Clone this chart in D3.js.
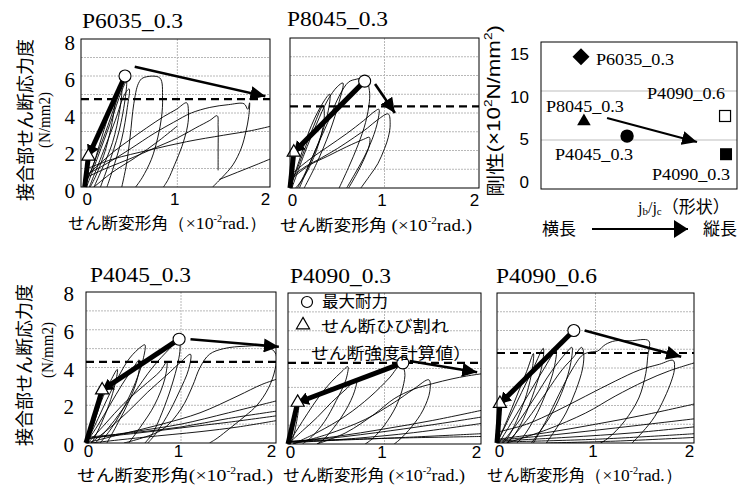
<!DOCTYPE html>
<html>
<head>
<meta charset="utf-8">
<script src="https://cdn.jsdelivr.net/npm/d3@7"></script>
<style>
body { margin: 0; background: #fff; }
</style>
</head>
<body>
<svg id="chart" width="753" height="488"></svg>
<script>
// ---- data ----
var panelTitles = ["P6035_0.3", "P8045_0.3", "P4045_0.3", "P4090_0.3", "P4090_0.6"];
var yTickValues = [0, 2, 4, 6, 8];
var xTickValues = [0, 1, 2];
var gridValues = [1, 2, 3, 4, 5, 6, 7];
var calcStrength = [4.75, 4.35, 4.3, 4.3, 4.8];          // dashed line
var crackPoint = [[0.04, 1.66], [0.04, 1.9], [0.17, 2.8], [0.1, 2.2], [0.03, 2.1]];
var maxPoint = [[0.435, 6.0], [0.79, 5.7], [0.98, 5.5], [1.19, 4.3], [0.78, 6.0]];
var trendFrom = [[0.54, 6.5], [0.9, 5.55], [1.1, 5.5], [1.26, 4.4], [0.89, 6.0]];
var trendTo = [[1.95, 4.9], [1.11, 4.0], [2.03, 5.1], [1.96, 3.8], [1.87, 4.6]];

var p6035Loops = [
  [[0,0],[0.1,1.3],[0.22,2.9],[0.34,4.6],[0.4,5.4],[0.38,4.2],[0.3,2.4],[0.18,0.9],[0.1,0]],
  [[0.02,0],[0.14,1.6],[0.28,3.5],[0.4,5.2],[0.45,5.7],[0.44,4.9],[0.37,3.0],[0.25,1.1],[0.17,0]],
  [[0.05,0],[0.2,1.9],[0.33,3.6],[0.43,5.0],[0.48,5.3],[0.46,4.3],[0.4,2.6],[0.3,0.9],[0.24,0]],
  [[0,0.2],[0.08,1.0],[0.16,2.3],[0.26,3.9],[0.33,4.9],[0.31,3.9],[0.23,2.1],[0.12,0.6],[0.06,0]],
  [[0.4,0],[0.45,1.2],[0.49,2.7],[0.53,4.5],[0.58,5.6],[0.63,5.9],[0.81,5.9],[0.84,4.8],[0.83,3.8],[0.79,2.7],[0.72,1.5],[0.62,0.5],[0.55,0]],
  [[0.02,0.6],[0.15,1.2],[0.31,1.9],[0.5,2.6],[0.67,3.2],[0.85,3.8],[0.99,4.2],[1.1,4.55],[1.12,4.0],[1.11,3.3],[1.05,2.2],[0.97,1.2],[0.9,0.4],[0.85,0]],
  [[0.03,0.7],[0.25,1.3],[0.49,2.05],[0.75,2.9],[0.96,3.5],[1.15,4.0],[1.35,4.3],[1.55,4.45],[1.72,4.5],[1.76,4.2],[1.78,4.55],[1.77,3.8],[1.74,3.0],[1.69,2.1],[1.6,1.2],[1.48,0.5],[1.38,0]],
  [[0.03,0.55],[0.25,1.05],[0.5,1.55],[0.75,2.1],[1.0,2.65],[1.2,3.2],[1.35,3.6],[1.43,3.85],[1.44,3.3],[1.44,2.0],[1.44,0.9]],
  [[0.03,1.0],[0.3,1.5],[0.7,2.0],[1.1,2.45],[1.5,2.8],[1.8,3.05],[2.02,3.3]],
  [[1.45,0.4],[1.65,0.8],[1.85,1.2],[2.02,1.55]],
  [[0.1,0],[0.3,0.8],[0.55,1.6],[0.8,2.5],[1.0,3.3]]
];
var p8045Loops = [
  [[0,0],[0.1,1.5],[0.2,3.0],[0.32,4.3],[0.42,5.0],[0.4,4.0],[0.3,2.4],[0.17,0.9],[0.08,0]],
  [[0.02,0],[0.15,1.8],[0.28,3.4],[0.4,4.7],[0.5,5.4],[0.56,5.6],[0.52,4.6],[0.42,3.0],[0.28,1.3],[0.15,0]],
  [[0,0],[0.12,1.6],[0.25,3.3],[0.35,4.4],[0.36,3.6],[0.28,2.0],[0.15,0.6],[0.06,0]],
  [[0.1,0],[0.25,1.8],[0.4,3.5],[0.52,4.9],[0.62,5.65],[0.7,5.8],[0.8,5.85],[0.84,5.2],[0.84,4.6],[0.8,3.5],[0.72,2.3],[0.62,1.1],[0.52,0]],
  [[0.02,0.6],[0.15,1.1],[0.33,1.6],[0.5,2.1],[0.68,2.7],[0.82,3.2],[0.93,3.65],[1.04,3.95],[1.06,3.4],[1.04,2.7],[1.0,2.1],[0.93,1.3],[0.85,0.7],[0.75,0]],
  [[0.03,0.8],[0.2,1.5],[0.4,2.2],[0.6,2.9],[0.78,3.6],[0.9,4.1],[0.94,4.2],[0.93,3.6],[0.87,2.6],[0.78,1.6],[0.68,0.7],[0.6,0]],
  [[0.02,0.5],[0.2,1.2],[0.4,1.7],[0.6,2.2],[0.78,2.6],[0.84,2.7],[0.84,2.3],[0.78,1.5],[0.7,0.7],[0.62,0]]
];
var p4045Loops = [
  [[0,0],[0.08,1.0],[0.16,2.2],[0.25,3.2],[0.33,3.9],[0.31,3.2],[0.24,2.0],[0.14,0.8],[0.06,0]],
  [[0,0],[0.1,1.0],[0.22,2.3],[0.34,3.5],[0.46,4.5],[0.58,5.1],[0.62,5.2],[0.6,4.4],[0.52,3.2],[0.4,1.9],[0.27,0.8],[0.15,0]],
  [[0,0],[0.12,0.9],[0.25,2.0],[0.38,3.1],[0.5,4.0],[0.56,4.4],[0.55,3.6],[0.46,2.3],[0.34,1.1],[0.22,0]],
  [[0.02,0],[0.2,1.0],[0.4,2.1],[0.6,3.0],[0.78,3.8],[0.85,4.3],[0.83,3.4],[0.72,2.0],[0.58,0.9],[0.45,0]],
  [[0.05,0],[0.25,0.8],[0.45,1.7],[0.65,2.7],[0.85,3.6],[1.0,4.3],[1.1,4.7],[1.08,3.9],[0.98,2.7],[0.85,1.4],[0.72,0.4],[0.65,0]],
  [[0.1,0],[0.3,1.2],[0.5,2.6],[0.7,4.0],[0.88,5.0],[0.98,5.5],[0.99,5.0],[0.97,4.3],[0.9,3.0],[0.8,1.6],[0.7,0.5],[0.62,0]],
  [[0.4,0],[0.8,0.7],[1.0,1.8],[1.12,3.0],[1.2,4.0],[1.3,4.7],[1.45,5.0],[1.68,5.13],[1.91,5.1],[2.0,4.7],[1.99,3.9],[1.92,2.9],[1.8,2.0],[1.68,1.45],[1.52,0.8],[1.38,0.25],[1.3,0]],
  [[0,0],[0.4,0.5],[0.8,1.0],[1.2,1.6],[1.6,2.5],[1.85,3.1],[2.02,3.4]],
  [[0,0.2],[0.5,0.6],[1.0,1.0],[1.5,1.6],[2.02,2.25]],
  [[0,0.3],[0.5,0.55],[1.0,0.85],[1.5,1.3],[2.02,1.7]],
  [[0,0.25],[0.5,0.5],[1.0,0.8],[1.5,1.1],[2.02,1.45]],
  [[0.05,0],[0.6,0.3],[1.2,0.6],[1.6,0.85],[2.02,1.2]]
];
var p4090a3Loops = [
  [[0,0],[0.05,1.0],[0.1,2.0],[0.12,2.4],[0.1,1.5],[0.05,0.3],[0.02,0]],
  [[0,0],[0.1,0.8],[0.2,1.6],[0.32,2.5],[0.45,3.3],[0.55,3.8],[0.62,4.1],[0.6,3.4],[0.5,2.3],[0.38,1.2],[0.25,0.4],[0.15,0]],
  [[0,0],[0.15,0.7],[0.3,1.4],[0.45,2.2],[0.6,2.9],[0.71,3.4],[0.69,2.8],[0.6,1.8],[0.48,0.9],[0.36,0.2],[0.3,0]],
  [[0.05,0],[0.3,0.6],[0.6,1.5],[0.85,2.5],[1.05,3.5],[1.17,4.2],[1.21,3.8],[1.19,3.0],[1.12,2.0],[1.0,1.0],[0.88,0.3],[0.8,0]],
  [[0.05,0],[0.4,0.5],[0.8,1.3],[1.1,2.2],[1.3,2.9],[1.46,3.4],[1.47,2.8],[1.4,1.8],[1.28,0.9],[1.15,0.2],[1.1,0]],
  [[0.3,0],[0.6,0.6],[0.9,1.6],[1.1,2.4],[1.3,2.9],[1.5,3.2],[1.7,3.45],[1.85,3.6],[2.02,3.73]],
  [[0,0.1],[0.5,0.4],[1.0,0.8],[1.5,1.25],[2.02,1.8]],
  [[0,0.1],[0.6,0.4],[1.2,0.8],[1.6,1.1],[2.02,1.44]],
  [[0,0.05],[0.7,0.3],[1.3,0.6],[2.02,1.1]],
  [[0,0.1],[1.0,0.3],[2.02,0.55]],
  [[0,0.15],[1.0,0.3],[2.02,0.4]]
];
var p4090a6Loops = [
  [[0,0],[0.1,1.2],[0.2,2.5],[0.3,3.8],[0.37,4.77],[0.36,4.0],[0.3,2.6],[0.2,1.2],[0.1,0.2],[0.06,0]],
  [[0,0],[0.12,1.3],[0.25,2.7],[0.37,4.0],[0.47,5.05],[0.46,4.2],[0.38,2.8],[0.27,1.3],[0.16,0.3],[0.1,0]],
  [[0.02,0],[0.16,1.2],[0.32,2.6],[0.47,3.9],[0.6,4.95],[0.58,4.0],[0.5,2.7],[0.38,1.3],[0.26,0.3],[0.2,0]],
  [[0.05,0],[0.2,1.0],[0.38,2.4],[0.55,3.8],[0.7,4.8],[0.76,5.1],[0.75,4.3],[0.68,3.0],[0.56,1.6],[0.42,0.5],[0.35,0]],
  [[0.1,0],[0.3,1.2],[0.5,2.7],[0.66,3.9],[0.78,4.6],[0.86,5.1],[0.88,4.8],[0.87,4.0],[0.8,2.8],[0.7,1.6],[0.58,0.6],[0.5,0]],
  [[0.37,0],[0.5,1.2],[0.63,2.6],[0.76,3.9],[0.87,4.7],[0.95,4.85],[1.02,4.9],[1.1,5.25],[1.2,5.45],[1.35,5.45],[1.54,5.45],[1.53,4.6],[1.51,3.7],[1.44,2.4],[1.3,1.2],[1.18,0.5],[1.1,0.15],[1.05,0]],
  [[0.02,0.6],[0.3,1.0],[0.6,1.7],[0.9,2.5],[1.2,3.3],[1.45,3.9],[1.65,4.2],[1.79,4.4],[1.8,3.9],[1.77,3.3],[1.7,2.4],[1.6,1.4],[1.48,0.6],[1.4,0.15],[1.37,0]],
  [[0.1,0],[0.5,0.7],[0.9,1.6],[1.2,2.5],[1.5,3.3],[1.75,3.85],[2.02,4.3]],
  [[0,0.2],[0.5,0.55],[1.0,1.0],[1.5,1.5],[2.02,2.1]],
  [[0,0.15],[0.6,0.45],[1.2,0.8],[2.02,1.3]],
  [[0,0.1],[0.7,0.3],[1.4,0.55],[2.02,0.87]],
  [[0,0.05],[1.0,0.2],[2.02,0.5]],
  [[0.5,0],[1.2,0.1],[2.02,0.3]]
];
var panelLoops = [p6035Loops, p8045Loops, p4045Loops, p4090a3Loops, p4090a6Loops];

// stiffness vs shape (right-top chart)
var specimens = ["P6035_0.3", "P8045_0.3", "P4045_0.3", "P4090_0.6", "P4090_0.3"];
var shapeRatio = [0.204, 0.219, 0.439, 0.939, 0.944];
var stiffness = [13.5, 6.9, 5.4, 7.45, 3.55];
var stiffTicks = [0, 5, 10, 15];
var stiffGrid = [5, 10];
var stiffArrowFrom = [0.337, 7.24];
var stiffArrowTo = [0.796, 4.8];

// ---- layout ----
var SERIF = '"Liberation Serif", "Times New Roman", serif';
var SANS = '"Liberation Sans", Arial, sans-serif';
var JP = '"Noto Sans CJK JP", sans-serif';

var boxes = [
  {l: 81, t: 39, r: 270, b: 187, x0: -0.04, tx: 82, ty: 28},
  {l: 290, t: 38, r: 479, b: 188, x0: 0, tx: 287, ty: 26},
  {l: 86, t: 292, r: 276, b: 443, x0: 0, tx: 90, ty: 282},
  {l: 288, t: 293, r: 481, b: 444, x0: 0, tx: 290, ty: 283},
  {l: 497, t: 293, r: 694, b: 443, x0: 0, tx: 496, ty: 283}
];
var xTitleParts = [["（×10", "rad.）"], [" (×10", "rad.)"], ["(×10", "rad.)"], [" (×10", "rad.)"], ["（×10", "rad.）"]];
var xTitlePos = [[68, 229, 199], [280, 231, 192], [77, 481, 196], [283, 481, 182], [487, 481, 195]];
var xLabelShift = [2, -3, -5];
var labelOffsets = [[15, 8], [-38, -9], [-72, 24], [-78, -17], [-74, 26]];
var markerKinds = ["diamond", "triangle", "circle", "squareOpen", "square"];

var svg = d3.select("#chart");
var defs = svg.append("defs");

function addHead(id, w, h) {
  defs.append("marker")
    .attr("id", id)
    .attr("markerUnits", "userSpaceOnUse")
    .attr("markerWidth", w).attr("markerHeight", h)
    .attr("refX", w).attr("refY", h / 2)
    .attr("orient", "auto")
    .append("path")
    .attr("d", "M0,0 L" + w + "," + (h / 2) + " L0," + h + " Z")
    .attr("fill", "#000");
}
addHead("head", 15, 14);
addHead("thickHead", 11, 13);
addHead("bigHead", 14, 18);

var line = d3.line().curve(d3.curveCatmullRom.alpha(0.5));

function verticalText(x, y, str, font, size, len) {
  var t = svg.append("text")
    .attr("transform", "translate(" + x + "," + y + ") rotate(-90)")
    .attr("text-anchor", "middle")
    .attr("dominant-baseline", "central")
    .style("font-family", font)
    .attr("font-size", size)
    .text(str);
  if (len) t.attr("textLength", len).attr("lengthAdjust", "spacingAndGlyphs");
  return t;
}

boxes.forEach(function(bx, i) {
  var x = d3.scaleLinear().domain([bx.x0, 2]).range([bx.l, bx.r]);
  var y = d3.scaleLinear().domain([0, 8]).range([bx.b, bx.t]);
  var g = svg.append("g");

  defs.append("clipPath").attr("id", "clip" + i)
    .append("rect").attr("x", bx.l).attr("y", bx.t)
    .attr("width", bx.r - bx.l).attr("height", bx.b - bx.t);

  // grid
  g.selectAll(".hg").data(gridValues).enter().append("line")
    .attr("x1", bx.l).attr("x2", bx.r)
    .attr("y1", function(d) { return y(d); }).attr("y2", function(d) { return y(d); })
    .attr("stroke", "#b8b8b8").attr("stroke-width", 1).attr("stroke-dasharray", "2,1");
  g.append("line")
    .attr("x1", x(1)).attr("x2", x(1)).attr("y1", bx.t).attr("y2", bx.b)
    .attr("stroke", "#b8b8b8").attr("stroke-width", 1).attr("stroke-dasharray", "2,1");

  // hysteresis loops
  line.x(function(d) { return x(d[0]); }).y(function(d) { return y(d[1]); });
  g.append("g").attr("clip-path", "url(#clip" + i + ")")
    .selectAll("path").data(panelLoops[i]).enter().append("path")
    .attr("d", line)
    .attr("fill", "none").attr("stroke", "#000").attr("stroke-width", 0.9);

  // shear strength (calc)
  g.append("line")
    .attr("x1", bx.l).attr("x2", bx.r)
    .attr("y1", y(calcStrength[i])).attr("y2", y(calcStrength[i]))
    .attr("stroke", "#000").attr("stroke-width", 2.2).attr("stroke-dasharray", "8,5");

  // skeleton (thick)
  var c = crackPoint[i], m = maxPoint[i];
  g.append("line")
    .attr("x1", x(0)).attr("y1", y(0)).attr("x2", x(c[0])).attr("y2", y(c[1]))
    .attr("stroke", "#000").attr("stroke-width", 5);
  g.append("line")
    .attr("x1", x(m[0])).attr("y1", y(m[1])).attr("x2", x(c[0])).attr("y2", y(c[1]))
    .attr("stroke", "#000").attr("stroke-width", 5)
    .attr("marker-end", "url(#thickHead)");

  // trend arrow
  g.append("line")
    .attr("x1", x(trendFrom[i][0])).attr("y1", y(trendFrom[i][1]))
    .attr("x2", x(trendTo[i][0])).attr("y2", y(trendTo[i][1]))
    .attr("stroke", "#000").attr("stroke-width", 2.6)
    .attr("marker-end", "url(#head)");

  // markers
  g.append("circle").attr("cx", x(m[0])).attr("cy", y(m[1])).attr("r", 6)
    .attr("fill", "#fff").attr("stroke", "#000").attr("stroke-width", 1.1);
  g.append("path")
    .attr("d", d3.symbol().type(d3.symbolTriangle).size(75)())
    .attr("transform", "translate(" + x(c[0]) + "," + y(c[1]) + ")")
    .attr("fill", "#fff").attr("stroke", "#000").attr("stroke-width", 1.2);

  // frame
  g.append("rect").attr("x", bx.l).attr("y", bx.t)
    .attr("width", bx.r - bx.l).attr("height", bx.b - bx.t)
    .attr("fill", "none").attr("stroke", "#000").attr("stroke-width", 1);

  // x axis labels
  var xa = g.append("g").attr("transform", "translate(0," + bx.b + ")")
    .call(d3.axisBottom(x).tickValues(xTickValues).tickSize(0).tickFormat(d3.format("d")));
  xa.select(".domain").remove();
  xa.selectAll("text")
    .style("font-family", SANS).attr("font-size", 17).attr("fill", "#000")
    .attr("x", function(d) { return xLabelShift[d]; })
    .attr("y", i < 2 ? 18 : 14).attr("dy", 0);

  // y axis labels (left panels only)
  if (i === 0 || i === 2) {
    var ya = g.append("g").attr("transform", "translate(" + bx.l + ",0)")
      .call(d3.axisLeft(y).tickValues(yTickValues).tickSize(0).tickPadding(i === 0 ? 6 : 12));
    ya.select(".domain").remove();
    ya.selectAll("text")
      .style("font-family", SERIF).attr("font-size", 21).attr("fill", "#000")
      .attr("dy", i === 0 ? 10.5 : 8.5);
  }

  // title
  svg.append("text")
    .style("font-family", SERIF)
    .attr("x", bx.tx).attr("y", bx.ty)
    .attr("font-size", 20)
    .attr("textLength", 101).attr("lengthAdjust", "spacingAndGlyphs")
    .text(panelTitles[i]);

  // x title
  var p = xTitlePos[i];
  var xt = svg.append("text").attr("x", p[0]).attr("y", p[1]).attr("font-size", 16)
    .attr("textLength", p[2]).attr("lengthAdjust", "spacingAndGlyphs");
  xt.append("tspan").style("font-family", JP).text("せん断変形角");
  xt.append("tspan").style("font-family", SERIF).attr("font-size", 17).text(xTitleParts[i][0]);
  xt.append("tspan").style("font-family", SERIF).attr("font-size", 10).attr("dy", -7).text("-2");
  xt.append("tspan").style("font-family", SERIF).attr("font-size", 17).attr("dy", 7).text(xTitleParts[i][1]);
});

// y titles
verticalText(24, 120, "接合部せん断応力度", JP, 18);
verticalText(44, 120, "(N/mm2)", SERIF, 17, 56);
verticalText(23, 365, "接合部せん断応力度", JP, 18);
verticalText(47, 350, "(N/mm2)", SERIF, 17, 56);

// legend inside P4090_0.3
svg.append("circle").attr("cx", 307).attr("cy", 302).attr("r", 5.5)
  .attr("fill", "#fff").attr("stroke", "#000").attr("stroke-width", 1.2);
svg.append("text").style("font-family", JP).attr("x", 322).attr("y", 307)
  .attr("font-size", 16).attr("textLength", 66).attr("lengthAdjust", "spacingAndGlyphs")
  .text("最大耐力");
svg.append("path")
  .attr("d", d3.symbol().type(d3.symbolTriangle).size(75)())
  .attr("transform", "translate(303,325)")
  .attr("fill", "#fff").attr("stroke", "#000").attr("stroke-width", 1.2);
svg.append("text").style("font-family", JP).attr("x", 321).attr("y", 332)
  .attr("font-size", 16).attr("textLength", 128).attr("lengthAdjust", "spacingAndGlyphs")
  .text("せん断ひび割れ");
svg.append("text").style("font-family", JP).attr("x", 311).attr("y", 359)
  .attr("font-size", 16).attr("textLength", 160).attr("lengthAdjust", "spacingAndGlyphs")
  .text("せん断強度計算値）");

// ---- stiffness chart ----
var sb = {l: 541, t: 42, r: 737, b: 189};
var sx = d3.scaleLinear().domain([0, 1]).range([sb.l, sb.r]);
var sy = d3.scaleLinear().domain([0, 15]).range([sb.b, sb.t]);
var syLabel = d3.scaleLinear().domain([0, 15]).range([182, 54]);
var sg = svg.append("g");

sg.selectAll(".sgrid").data(stiffGrid).enter().append("line")
  .attr("x1", sb.l).attr("x2", sb.r)
  .attr("y1", function(d) { return sy(d); }).attr("y2", function(d) { return sy(d); })
  .attr("stroke", "#bdbdbd").attr("stroke-width", 1.2);
sg.append("rect").attr("x", sb.l).attr("y", sb.t)
  .attr("width", sb.r - sb.l).attr("height", sb.b - sb.t)
  .attr("fill", "none").attr("stroke", "#000").attr("stroke-width", 1);

var sya = sg.append("g").attr("transform", "translate(" + sb.l + ",0)")
  .call(d3.axisLeft(syLabel).tickValues(stiffTicks).tickSize(0).tickPadding(12));
sya.select(".domain").remove();
sya.selectAll("text").style("font-family", SANS).attr("font-size", 17).attr("fill", "#000");

sg.append("line")
  .attr("x1", sx(stiffArrowFrom[0])).attr("y1", sy(stiffArrowFrom[1]))
  .attr("x2", sx(stiffArrowTo[0])).attr("y2", sy(stiffArrowTo[1]))
  .attr("stroke", "#000").attr("stroke-width", 2.2)
  .attr("marker-end", "url(#head)");

specimens.forEach(function(name, i) {
  var cx = sx(shapeRatio[i]), cy = sy(stiffness[i]);
  var k = markerKinds[i];
  if (k === "diamond") {
    sg.append("path").attr("d", "M0,-8.5 L8.5,0 L0,8.5 L-8.5,0 Z")
      .attr("transform", "translate(" + cx + "," + cy + ")").attr("fill", "#000");
  } else if (k === "triangle") {
    sg.append("path").attr("d", d3.symbol().type(d3.symbolTriangle).size(80)())
      .attr("transform", "translate(" + cx + "," + cy + ")").attr("fill", "#000");
  } else if (k === "circle") {
    sg.append("circle").attr("cx", cx).attr("cy", cy).attr("r", 6.7).attr("fill", "#000");
  } else if (k === "squareOpen") {
    sg.append("rect").attr("x", cx - 5.5).attr("y", cy - 5.5).attr("width", 11).attr("height", 11)
      .attr("fill", "#fff").attr("stroke", "#000").attr("stroke-width", 1.2);
  } else {
    sg.append("rect").attr("x", cx - 6).attr("y", cy - 6).attr("width", 12).attr("height", 12)
      .attr("fill", "#000");
  }
  sg.append("text").style("font-family", SERIF)
    .attr("x", cx + labelOffsets[i][0]).attr("y", cy + labelOffsets[i][1])
    .attr("font-size", 17.5).attr("textLength", 78).attr("lengthAdjust", "spacingAndGlyphs")
    .text(name);
});

// stiffness y title
var st = svg.append("text")
  .attr("transform", "translate(494,111) rotate(-90)")
  .attr("text-anchor", "middle").attr("dominant-baseline", "central")
  .attr("font-size", 18).attr("textLength", 172).attr("lengthAdjust", "spacingAndGlyphs");
st.append("tspan").style("font-family", JP).text("剛性");
st.append("tspan").style("font-family", SANS).text("(×10");
st.append("tspan").style("font-family", SANS).attr("font-size", 11).attr("dy", -6).text("2");
st.append("tspan").style("font-family", SANS).attr("dy", 6).text("N/mm");
st.append("tspan").style("font-family", SANS).attr("font-size", 11).attr("dy", -6).text("2");
st.append("tspan").style("font-family", SANS).attr("dy", 6).text(")");

// x title: jb/jc（形状）
var jt = svg.append("text").style("font-family", SERIF).attr("x", 638).attr("y", 213).attr("font-size", 16);
jt.append("tspan").text("j");
jt.append("tspan").attr("font-size", 11).attr("dy", 2).text("b");
jt.append("tspan").attr("dy", -2).text("/j");
jt.append("tspan").attr("font-size", 11).attr("dy", 2).text("c");
jt.append("tspan").style("font-family", JP).attr("dy", -2).attr("font-size", 17).text("（形状）");

svg.append("text").style("font-family", JP).attr("x", 542).attr("y", 235).attr("font-size", 17).text("横長");
svg.append("text").style("font-family", JP).attr("x", 703).attr("y", 235).attr("font-size", 17).text("縦長");
svg.append("line").attr("x1", 592).attr("y1", 229).attr("x2", 688).attr("y2", 229)
  .attr("stroke", "#000").attr("stroke-width", 2.2).attr("marker-end", "url(#bigHead)");
</script>
</body>
</html>
